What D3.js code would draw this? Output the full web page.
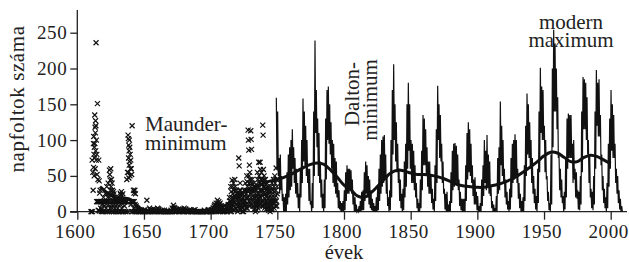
<!DOCTYPE html>
<html>
<head>
<meta charset="utf-8">
<script src="https://cdn.jsdelivr.net/npm/d3@7"></script>
<style>
  body { margin: 0; background: #fff; }
  text { font-family: "Liberation Serif", "Times New Roman", serif; fill: #222; }
</style>
</head>
<body>
<svg id="chart" width="629" height="262"></svg>
<script>
// tick labels
const yTicks = [0, 50, 100, 150, 200, 250];
const xTicks = [1600, 1650, 1700, 1750, 1800, 1850, 1900, 1950, 2000];

// monthly sunspot numbers 1749-2008, read as the yearly upper / lower edge of the band
const lineStart = 1749;
const monthlyHigh = [159,
  140, 75, 80, 50, 25, 20, 25, 55, 80, 90,
  100, 115, 90, 75, 60, 40, 25, 60, 100, 158,
  140, 120, 100, 60, 60, 15, 40, 140, 239, 170,
  130, 110, 70, 45, 25, 45, 130, 170, 175, 150,
  125, 100, 95, 75, 70, 40, 30, 15, 12, 15,
  30, 55, 65, 60, 60, 58, 45, 25, 20, 10,
  2, 8, 15, 28, 30, 55, 70, 65, 50, 45,
  30, 18, 12, 8, 20, 35, 60, 80, 100, 105,
  107, 80, 50, 20, 30, 100, 170, 206, 150, 125,
  95, 60, 45, 25, 32, 70, 95, 150, 180, 150,
  100, 95, 85, 65, 40, 18, 12, 45, 85, 135,
  130, 115, 90, 70, 70, 50, 32, 18, 65, 115,
  176, 150, 135, 95, 70, 32, 25, 28, 10, 15,
  55, 85, 95, 96, 92, 80, 45, 28, 18, 18,
  18, 65, 110, 125, 115, 95, 65, 45, 48, 28,
  22, 8, 12, 45, 65, 100, 85, 107, 80, 70,
  35, 15, 10, 5, 22, 75, 90, 154, 120, 100,
  60, 45, 28, 15, 32, 75, 95, 100, 108, 100,
  60, 40, 25, 15, 20, 65, 120, 165, 150, 125,
  100, 75, 50, 32, 22, 60, 140, 201, 175, 170,
  120, 100, 50, 28, 12, 80, 200, 254, 235, 200,
  160, 80, 60, 45, 22, 28, 75, 130, 137, 135,
  135, 95, 100, 60, 55, 30, 28, 50, 140, 188,
  185, 180, 160, 100, 80, 32, 28, 50, 140, 198,
  180, 185, 135, 80, 50, 32, 20, 40, 95, 130,
  170, 150, 135, 95, 60, 50, 30, 18, 8];
const monthlyLow = [58,
  50, 25, 30, 15, 0, 0, 0, 10, 20, 30,
  35, 60, 40, 25, 20, 5, 0, 20, 40, 70,
  65, 50, 40, 15, 10, 0, 5, 50, 110, 90,
  50, 40, 20, 5, 0, 5, 45, 100, 95, 80,
  60, 40, 35, 25, 20, 5, 3, 0, 0, 0,
  2, 15, 25, 25, 30, 25, 10, 0, 0, 0,
  0, 0, 0, 2, 2, 15, 25, 20, 10, 5,
  2, 0, 0, 0, 0, 2, 15, 25, 35, 40,
  45, 25, 8, 0, 2, 20, 80, 100, 70, 55,
  40, 15, 5, 0, 2, 20, 35, 60, 85, 60,
  40, 40, 30, 20, 5, 0, 0, 5, 30, 65,
  65, 50, 35, 25, 25, 12, 3, 0, 15, 40,
  100, 75, 70, 40, 25, 3, 0, 0, 0, 0,
  12, 30, 35, 40, 40, 30, 8, 2, 0, 0,
  0, 15, 45, 55, 50, 40, 22, 10, 10, 2,
  0, 0, 0, 8, 22, 40, 30, 35, 25, 22,
  5, 0, 0, 0, 0, 25, 30, 65, 50, 40,
  20, 10, 3, 0, 3, 20, 40, 45, 50, 40,
  18, 5, 0, 0, 0, 15, 50, 80, 75, 60,
  40, 25, 12, 3, 0, 12, 55, 110, 100, 100,
  55, 45, 15, 2, 0, 10, 90, 140, 140, 115,
  75, 30, 20, 12, 0, 3, 20, 60, 75, 75,
  75, 40, 45, 20, 18, 3, 2, 10, 55, 115,
  115, 100, 80, 40, 20, 5, 2, 10, 60, 120,
  105, 105, 65, 30, 12, 5, 0, 5, 35, 60,
  85, 75, 75, 40, 25, 12, 3, 0, 0];

// long-term smoothed curve
const smoothYears = [1617, 1622, 1628, 1635, 1640, 1645, 1650, 1660, 1670, 1680, 1690, 1700,
  1705, 1710, 1715, 1720, 1725, 1730, 1735, 1740, 1745, 1750, 1755, 1760, 1765, 1770, 1775,
  1780, 1785, 1790, 1795, 1800, 1805, 1810, 1815, 1820, 1825, 1830, 1835, 1840, 1845, 1850,
  1855, 1860, 1865, 1870, 1875, 1880, 1885, 1890, 1895, 1900, 1905, 1910, 1915, 1920, 1925,
  1930, 1935, 1940, 1945, 1950, 1955, 1960, 1965, 1970, 1975, 1980, 1985, 1990, 1995, 2000];
const smoothValues = [35, 27, 20, 19, 17, 8, 2, 0.5, 0.5, 0.5, 0.5, 2,
  4, 8, 14, 23, 27, 31, 36, 40, 43, 45, 48, 52, 57, 62, 66,
  68, 66, 58, 48, 37, 31, 22, 20, 26, 35, 45, 54, 58, 57, 54,
  52, 52, 51, 49, 46, 42, 38, 36, 35, 34, 34, 36, 38, 41, 45,
  50, 56, 63, 70, 78, 83, 82, 76, 70, 70, 76, 79, 77, 72, 67];

// early (group) sunspot observations 1610-1749, one list per year
const crossStart = 1610;
const crossValues = [
  [0, 0],
  [72, 0, 55, 30],
  [95, 62, 105, 80, 50, 90, 75],
  [135, 95, 118, 60, 110, 127, 85, 120],
  [236, 72, 100, 14, 80, 52, 14],
  [151, 14, 45, 2, 14],
  [72, 14, 43, 1, 26, 14],
  [30, 14, 5, 14, 0],
  [14, 3, 14, 10, 0],
  [14, 0, 20, 14],
  [14, 8, 14, 0],
  [25, 14, 5, 14],
  [35, 0, 14, 20],
  [40, 10, 14, 25, 0],
  [58, 20, 52, 5, 44, 14, 30],
  [60, 14, 35, 0, 45, 10, 25],
  [40, 5, 30, 14, 20, 0],
  [28, 0, 25, 14, 10],
  [20, 5, 14, 14, 0],
  [14, 0, 14, 10],
  [15, 5, 14, 0],
  [20, 0, 14, 14],
  [26, 10, 24, 14, 0],
  [28, 5, 22, 14, 0],
  [25, 14, 0, 14],
  [14, 8, 14, 0],
  [14, 0, 14],
  [45, 14, 55, 0],
  [107, 55, 102, 75, 93, 47, 85, 65],
  [100, 70, 90, 50, 80, 14, 60],
  [72, 10, 60, 14, 52, 0],
  [120, 14, 0, 14],
  [30, 5, 26, 14, 0],
  [30, 10, 25, 0],
  [8, 0, 3],
  [5, 0, 0],
  [3, 0],
  [0, 0],
  [2, 0],
  [0],
  [0, 3],
  [0, 0],
  [16, 0, 2],
  [0, 0],
  [5, 0, 3],
  [3, 0],
  [0, 2],
  [4, 0, 0],
  [0, 2],
  [3, 0],
  [5, 0, 4],
  [3, 0],
  [0, 0],
  [0, 2],
  [0, 0],
  [2, 0],
  [0, 0],
  [0, 0],
  [0, 0],
  [0, 0],
  [2, 0],
  [5, 0, 3],
  [9, 4, 6, 0],
  [5, 0, 3],
  [4, 0, 2],
  [3, 0],
  [4, 0, 2],
  [3, 0],
  [2, 0],
  [3, 0],
  [5, 0, 2],
  [4, 0],
  [2, 0],
  [0, 0],
  [3, 0],
  [2, 0],
  [0, 0],
  [2, 0],
  [3, 0],
  [0, 0],
  [0, 0],
  [0, 0],
  [0, 0],
  [0, 0],
  [0, 0],
  [2, 0],
  [0, 0],
  [0, 0],
  [3, 0],
  [2, 0],
  [0, 3, 0],
  [2, 0, 5],
  [5, 0, 8, 3],
  [10, 3, 6, 0],
  [12, 2, 8, 5],
  [16, 4, 12, 0, 8],
  [14, 2, 10, 6],
  [12, 0, 8, 5],
  [8, 2, 5, 0],
  [5, 0, 3],
  [3, 0, 2],
  [2, 0],
  [5, 0, 3],
  [10, 2, 6],
  [20, 5, 15, 0, 10],
  [35, 12, 28, 0, 20, 5],
  [44, 10, 35, 3, 25, 18],
  [40, 8, 30, 2, 22, 14],
  [45, 12, 35, 5, 28, 20],
  [30, 4, 25, 10, 18],
  [25, 0, 20, 8, 14],
  [75, 12, 64, 5, 30, 20],
  [40, 8, 30, 3, 22, 15],
  [25, 6, 18, 0, 12],
  [20, 5, 15, 0, 10],
  [30, 8, 22, 3, 15],
  [40, 10, 30, 5, 25, 18],
  [50, 12, 42, 5, 35, 20, 28],
  [114, 20, 100, 10, 86, 30, 50, 40],
  [65, 15, 55, 8, 45, 25, 35],
  [113, 20, 101, 10, 87, 30, 40],
  [45, 15, 38, 8, 30, 22],
  [35, 8, 28, 3, 20, 14],
  [30, 5, 22, 0, 15, 10],
  [38, 8, 30, 2, 22, 15],
  [55, 10, 45, 5, 35, 18, 25],
  [69, 15, 50, 8, 40, 22, 30],
  [69, 20, 59, 12, 45, 30, 38],
  [55, 15, 45, 8, 38, 22, 30],
  [121, 25, 107, 8, 59, 15, 45, 35],
  [50, 10, 40, 5, 32, 18, 25],
  [45, 8, 38, 3, 30, 15, 22],
  [40, 12, 32, 5, 25, 18],
  [35, 8, 28, 2, 20, 14],
  [30, 5, 22, 0, 15, 10],
  [35, 8, 28, 3, 20, 14],
  [40, 8, 30, 3, 22, 15],
  [45, 12, 35, 5, 28, 20],
  [50, 15, 40, 8, 30, 22],
  [61, 15, 45, 8, 35, 25]
];

const serif = "'Liberation Serif', 'Times New Roman', serif";
const svg = d3.select("#chart");
const x = d3.scaleLinear().domain([1600, 2000]).range([77.3, 610.7]);
const y = d3.scaleLinear().domain([0, 250]).range([211.7, 32.7]);

// axis lines, drawn a bit past the scale ends like the original
svg.append("line")
  .attr("x1", 70).attr("x2", 627)
  .attr("y1", y(0)).attr("y2", y(0))
  .attr("stroke", "#222").attr("stroke-width", 1.3);
svg.append("line")
  .attr("x1", x(1600)).attr("x2", x(1600))
  .attr("y1", 10).attr("y2", y(0))
  .attr("stroke", "#222").attr("stroke-width", 1.3);

const gx = svg.append("g")
  .attr("transform", `translate(0,${y(0)})`)
  .call(d3.axisBottom(x).tickValues(xTicks).tickFormat(d3.format("d")).tickSize(8).tickPadding(5));
gx.select(".domain").remove();
gx.selectAll(".tick line").attr("stroke", "#222").attr("stroke-width", 1.3);
gx.selectAll(".tick text")
  .attr("fill", "#222")
  .attr("dx", -2.5)
  .style("font-size", "19px")
  .style("letter-spacing", "0.6px")
  .style("font-family", serif);

const gy = svg.append("g")
  .attr("transform", `translate(${x(1600)},0)`)
  .call(d3.axisLeft(y).tickValues(yTicks).tickSize(7).tickPadding(3));
gy.select(".domain").remove();
gy.selectAll(".tick line").attr("stroke", "#222").attr("stroke-width", 1.3);
gy.selectAll(".tick text")
  .attr("fill", "#222")
  .style("font-size", "19px")
  .style("letter-spacing", "0.6px")
  .style("font-family", serif);

// early observations as crosses
const crossPoints = [];
crossValues.forEach((vals, i) => {
  vals.forEach((v, k) => {
    crossPoints.push({ year: crossStart + i + (k + 0.5) / vals.length, value: v });
  });
});
svg.append("g")
  .selectAll("path")
  .data(crossPoints)
  .join("path")
  .attr("transform", d => `translate(${x(d.year)},${y(d.value)})`)
  .attr("d", d3.symbol(d3.symbolTimes, 18))
  .attr("fill", "none")
  .attr("stroke", "#111")
  .attr("stroke-width", 1.2);

// monthly line
const monthlyPoints = [];
monthlyHigh.forEach((h, i) => {
  monthlyPoints.push({ year: lineStart + i + 0.25, value: h });
  monthlyPoints.push({ year: lineStart + i + 0.75, value: monthlyLow[i] });
});
const line = d3.line().x(d => x(d.year)).y(d => y(d.value));
svg.append("path")
  .datum(monthlyPoints)
  .attr("d", line)
  .attr("fill", "none")
  .attr("stroke", "#111")
  .attr("stroke-width", 1.2)
  .attr("stroke-linejoin", "miter");

// smoothed curve
const smoothLine = d3.line()
  .x((d, i) => x(smoothYears[i]))
  .y(d => y(d))
  .curve(d3.curveCatmullRom);
svg.append("path")
  .datum(smoothValues)
  .attr("d", smoothLine)
  .attr("fill", "none")
  .attr("stroke", "#111")
  .attr("stroke-width", 3);

// axis titles
svg.append("text")
  .attr("transform", "translate(24,99) rotate(-90)")
  .attr("text-anchor", "middle")
  .style("font-size", "21px")
  .style("letter-spacing", "0.6px")
  .text("napfoltok száma");
svg.append("text")
  .attr("x", 344).attr("y", 258.5)
  .attr("text-anchor", "middle")
  .style("font-size", "20.5px")
  .text("évek");

// annotations
const note = svg.append("g").style("font-size", "21px");
note.append("text").attr("x", 145).attr("y", 131).text("Maunder-");
note.append("text").attr("x", 145).attr("y", 149.5).text("minimum");
note.append("text")
  .attr("transform", "translate(359,94) rotate(-90)")
  .attr("text-anchor", "middle").text("Dalton-");
note.append("text")
  .attr("transform", "translate(377,100) rotate(-90)")
  .attr("text-anchor", "middle").text("minimum");
note.append("text").attr("x", 571).attr("y", 28.5).attr("text-anchor", "middle").text("modern");
note.append("text").attr("x", 571).attr("y", 47).attr("text-anchor", "middle").text("maximum");
</script>
</body>
</html>
